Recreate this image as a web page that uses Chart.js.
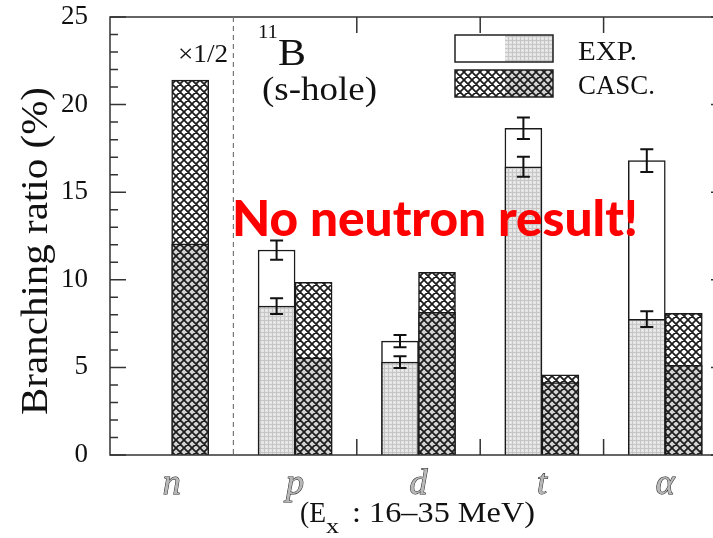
<!DOCTYPE html>
<html>
<head>
<meta charset="utf-8">
<script src="https://cdn.jsdelivr.net/npm/chart.js@4.4.0/dist/chart.umd.min.js"></script>
<style>
  html, body { margin: 0; padding: 0; overflow: hidden; background: #fff; }
</style>
</head>
<body>
<canvas id="chart" width="740" height="538"></canvas>
<script>
// values (%)
const particles = ['n', 'p', 'd', 't', 'α'];
const expTotal = [0, 11.7, 6.5, 18.65, 16.8];
const expTotalErr = [null, 0.55, 0.35, 0.62, 0.65];
const expLow = [0, 8.5, 5.3, 16.45, 7.75];
const expLowErr = [null, 0.45, 0.33, 0.57, 0.45];
const cascTotal = [21.4, 9.85, 10.42, 4.58, 8.08];
const cascLow = [12.05, 5.55, 8.15, 4.13, 5.12];
const yTicks = [0, 5, 10, 15, 20, 25];

const canvas = document.getElementById('chart');
const ctx = canvas.getContext('2d');

// fill patterns
function makePattern(size, draw) {
    const c = document.createElement('canvas');
    c.width = c.height = size;
    draw(c.getContext('2d'), size);
    return ctx.createPattern(c, 'repeat');
}

const stipple = makePattern(4, function (g, s) {
    g.fillStyle = '#e4e4e4';
    g.fillRect(0, 0, s, s);
    g.fillStyle = '#c6c6c6';
    g.fillRect(0, 0, s, 1);
    g.fillRect(0, 0, 1, s);
    g.fillStyle = '#f2f2f2';
    g.fillRect(2, 2, 1, 1);
});

function hatch(fill) {
    return makePattern(8, function (g, s) {
        g.fillStyle = fill;
        g.fillRect(0, 0, s, s);
        g.strokeStyle = '#1c1c1c';
        g.lineWidth = 1.7;
        g.beginPath();
        [-s, 0, s].forEach(function (o) {
            g.moveTo(o, 0); g.lineTo(o + s, s);
            g.moveTo(o + s, 0); g.lineTo(o, s);
        });
        g.stroke();
    });
}
const hatchWhite = hatch('#ffffff');
const hatchGrey = hatch('#d4d4d4');

// draw a string stretched to a given width
function fitText(g, str, x, y, font, width, color) {
    g.save();
    g.font = font;
    g.fillStyle = color || '#111';
    g.textBaseline = 'alphabetic';
    g.textAlign = 'left';
    const w = g.measureText(str).width;
    const sx = width ? width / w : 1;
    g.translate(x, y);
    g.scale(sx, 1);
    g.fillText(str, 0, 0);
    g.restore();
    return w * sx;
}

// frame, inward ticks and the dashed separator
const framePlugin = {
    id: 'frame',
    afterDatasetsDraw(chart) {
        const g = chart.ctx;
        const a = chart.chartArea;
        const xs = chart.scales.x;
        const ys = chart.scales.y;
        g.save();
        g.strokeStyle = '#333';
        g.lineWidth = 1.5;
        g.strokeRect(a.left, a.top, a.right - a.left, a.bottom - a.top);

        g.beginPath();
        for (let v = ys.min; v <= ys.max; v++) {
            const y = ys.getPixelForValue(v);
            const len = v % 5 === 0 ? 16 : 8;
            g.moveTo(a.left, y); g.lineTo(a.left + len, y);
            g.moveTo(a.right, y); g.lineTo(a.right - len, y);
        }
        for (let i = 2; i < particles.length; i++) {
            const x = (xs.getPixelForValue(i - 1) + xs.getPixelForValue(i)) / 2;
            g.moveTo(x, a.top); g.lineTo(x, a.top + 16);
            g.moveTo(x, a.bottom); g.lineTo(x, a.bottom - 16);
        }
        g.stroke();

        // dashed line between n and p
        const xd = (xs.getPixelForValue(0) + xs.getPixelForValue(1)) / 2;
        g.strokeStyle = '#777';
        g.lineWidth = 1.2;
        g.setLineDash([5, 4]);
        g.beginPath();
        g.moveTo(xd, a.top); g.lineTo(xd, a.bottom);
        g.stroke();
        g.restore();
    }
};

// error bars on the experimental values
const errorPlugin = {
    id: 'errors',
    afterDatasetsDraw(chart) {
        const g = chart.ctx;
        const ys = chart.scales.y;
        const sets = [[0, expLow, expLowErr], [1, expTotal, expTotalErr]];
        g.save();
        g.strokeStyle = '#111';
        g.lineWidth = 2;
        sets.forEach(function (s) {
            const meta = chart.getDatasetMeta(s[0]);
            s[1].forEach(function (v, i) {
                const e = s[2][i];
                if (e == null) return;
                const x = meta.data[i].x;
                const y1 = ys.getPixelForValue(v + e);
                const y2 = ys.getPixelForValue(v - e);
                g.beginPath();
                g.moveTo(x, y1); g.lineTo(x, y2);
                g.moveTo(x - 6.5, y1); g.lineTo(x + 6.5, y1);
                g.moveTo(x - 6.5, y2); g.lineTo(x + 6.5, y2);
                g.stroke();
            });
        });
        g.restore();
    }
};

// legend, labels and the red note
const notesPlugin = {
    id: 'notes',
    afterDraw(chart) {
        const g = chart.ctx;
        const serif = '"Liberation Serif", "Times New Roman", serif';

        // y axis title
        g.save();
        g.translate(47, 415);
        g.rotate(-Math.PI / 2);
        fitText(g, 'Branching ratio (%)', 0, 0, '37px ' + serif, 328);
        g.restore();

        // x axis title with subscript
        let x = 300;
        x += fitText(g, '(E', x, 522, '30px ' + serif, 26);
        fitText(g, 'x', x, 533, '21px ' + serif, 13);
        fitText(g, ': 16\u201335 MeV)', 352, 522, '30px ' + serif, 183);

        fitText(g, '\u00d71/2', 178, 62, '26px ' + serif, 50);
        fitText(g, '11', 258, 38, '18px ' + serif, 20);
        fitText(g, 'B', 278, 65, '37px ' + serif, 28);
        fitText(g, '(s-hole)', 262, 100, '34px ' + serif, 115);

        // legend swatches
        g.save();
        g.fillStyle = '#fff';
        g.fillRect(455, 35, 50, 27);
        g.fillStyle = stipple;
        g.fillRect(505, 35, 48, 27);
        g.fillStyle = hatchWhite;
        g.fillRect(455, 70, 50, 27);
        g.fillStyle = hatchGrey;
        g.fillRect(505, 70, 48, 27);
        g.strokeStyle = '#222';
        g.lineWidth = 1.5;
        g.strokeRect(455, 35, 98, 27);
        g.strokeRect(455, 70, 98, 27);
        g.restore();
        fitText(g, 'EXP.', 578, 60, '27px ' + serif, 59);
        fitText(g, 'CASC.', 578, 94, '27px ' + serif, 77);

        fitText(g, 'No neutron result!', 232, 236, '900 50px Lato, "Open Sans", sans-serif', 406, '#ff0000');
    }
};

const chart = new Chart(ctx, {
    type: 'bar',
    data: {
        labels: particles,
        datasets: [
            { label: 'EXP. (lower)', data: expLow, stack: 'exp', backgroundColor: stipple },
            { label: 'EXP.', data: expTotal, stack: 'exp', backgroundColor: '#ffffff' },
            { label: 'CASC. (lower)', data: cascLow, stack: 'casc', backgroundColor: hatchGrey },
            { label: 'CASC.', data: cascTotal, stack: 'casc', backgroundColor: hatchWhite }
        ]
    },
    options: {
        responsive: false,
        animation: false,
        datasets: {
            bar: { barThickness: 37, borderColor: '#1a1a1a', borderWidth: 1.5, borderSkipped: 'start' }
        },
        layout: { padding: { top: 17, right: 13, left: 0, bottom: 0 } },
        plugins: {
            legend: { display: false },
            tooltip: { enabled: false }
        },
        scales: {
            x: {
                stacked: true,
                grid: { display: false },
                border: { display: false },
                ticks: {
                    padding: 0,
                    maxRotation: 0,
                    color: '#b8b8b8',
                    textStrokeColor: '#222',
                    textStrokeWidth: 1,
                    font: { family: '"Liberation Serif", serif', style: 'italic', size: 36 }
                },
                afterFit: function (s) {
                    s.height = 83;
                    s.paddingLeft = 0;
                    s.paddingRight = 0;
                }
            },
            y: {
                stacked: false,
                min: 0,
                max: 25,
                grid: { display: false, drawTicks: false },
                border: { display: false },
                afterBuildTicks: function (s) { s.ticks = yTicks.map(v => ({ value: v })); },
                ticks: {
                    padding: 22,
                    color: '#111',
                    font: { family: '"Liberation Serif", serif', size: 27 }
                },
                afterFit: function (s) {
                    s.width = 110;
                    s.paddingTop = 0;
                    s.paddingBottom = 0;
                }
            }
        }
    },
    plugins: [framePlugin, errorPlugin, notesPlugin]
});
</script>
</body>
</html>
